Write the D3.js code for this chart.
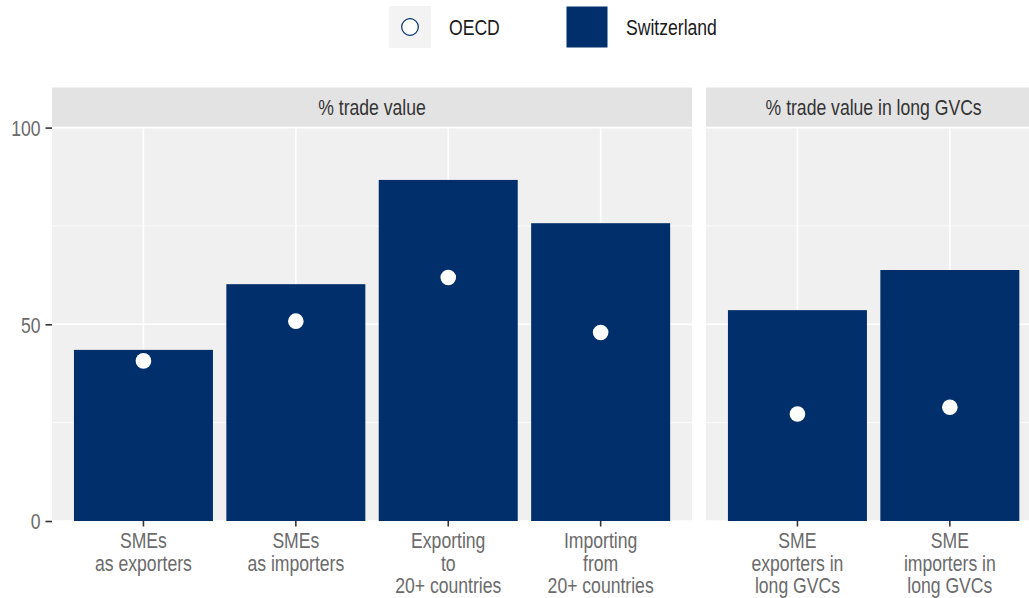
<!DOCTYPE html>
<html>
<head>
<meta charset="utf-8">
<script src="https://cdn.jsdelivr.net/npm/d3@7"></script>
<style>
  html, body { margin: 0; padding: 0; background: #ffffff; overflow: hidden; }
  svg { display: block; }
  text { font-family: "Liberation Sans", Arial, sans-serif; }
</style>
</head>
<body>
<svg id="chart" width="1029" height="598"></svg>
<script>
// ---- data ----
const panelTitles = ["% trade value", "% trade value in long GVCs"];
const categoriesLeft = ["SMEs\nas exporters", "SMEs\nas importers", "Exporting\nto\n20+ countries", "Importing\nfrom\n20+ countries"];
const categoriesRight = ["SME\nexporters in\nlong GVCs", "SME\nimporters in\nlong GVCs"];
const switzerlandLeft = [43.5, 60.2, 86.7, 75.7];
const switzerlandRight = [53.6, 63.8];
const oecdLeft = [40.7, 50.8, 61.9, 47.9];
const oecdRight = [27.2, 28.9];
const yTicks = [0, 50, 100];
const seriesNames = ["OECD", "Switzerland"];

const barColor = "#002f6c";
const svg = d3.select("#chart");
const narrow = 0.8; // emulate a narrow sans face by horizontal compression
const fs = 22;

// layout
const panelTop = 127.6, panelBottom = 521;
const unit = 152.4;
const leftX0 = 52;
const rightX0 = 706;
const y = d3.scaleLinear().domain([0, 100]).range([panelBottom, panelTop]);

const panels = [
  { title: panelTitles[0], cats: categoriesLeft, bars: switzerlandLeft, pts: oecdLeft, x0: leftX0 },
  { title: panelTitles[1], cats: categoriesRight, bars: switzerlandRight, pts: oecdRight, x0: rightX0 }
];

panels.forEach(p => {
  const width = (p.cats.length + 0.2) * unit;
  const x = d3.scaleBand().domain(p.cats).range([p.x0, p.x0 + width])
    .paddingOuter(0.1).paddingInner(0);
  const cx = c => x(c) + x.bandwidth() / 2;

  const g = svg.append("g");
  g.append("rect").attr("x", p.x0).attr("y", panelTop).attr("width", width).attr("height", panelBottom - panelTop)
    .attr("fill", "#f0f0f0");
  g.append("rect").attr("x", p.x0).attr("y", 87.5).attr("width", width).attr("height", panelTop - 87.5)
    .attr("fill", "#e3e3e3");
  g.append("text").attr("x", p.x0 + width / 2).attr("y", 115.5)
    .attr("text-anchor", "middle").attr("font-size", fs).attr("fill", "#333333").text(p.title);

  [25, 75].forEach(v => {
    g.append("line").attr("x1", p.x0).attr("x2", p.x0 + width).attr("y1", y(v)).attr("y2", y(v))
      .attr("stroke", "#ffffff").attr("stroke-width", 0.8);
  });
  yTicks.forEach(v => {
    g.append("line").attr("x1", p.x0).attr("x2", p.x0 + width).attr("y1", y(v)).attr("y2", y(v))
      .attr("stroke", "#ffffff").attr("stroke-width", 1.6);
  });
  p.cats.forEach(c => {
    g.append("line").attr("x1", cx(c)).attr("x2", cx(c)).attr("y1", panelTop).attr("y2", panelBottom)
      .attr("stroke", "#ffffff").attr("stroke-width", 1.6);
  });

  const bw = 139;
  g.selectAll("rect.bar").data(p.cats).enter().append("rect").attr("class", "bar")
    .attr("x", c => cx(c) - bw / 2).attr("width", bw)
    .attr("y", (c, i) => y(p.bars[i])).attr("height", (c, i) => y(0) - y(p.bars[i]))
    .attr("fill", barColor);

  g.selectAll("circle.pt").data(p.cats).enter().append("circle").attr("class", "pt")
    .attr("cx", c => cx(c)).attr("cy", (c, i) => y(p.pts[i])).attr("r", 7.8)
    .attr("fill", "#ffffff");

  p.cats.forEach(c => {
    g.append("line").attr("x1", cx(c)).attr("x2", cx(c)).attr("y1", panelBottom).attr("y2", panelBottom + 5.5)
      .attr("stroke", "#333333").attr("stroke-width", 1.6);
    const lines = c.split("\n");
    const t = g.append("text").attr("x", cx(c)).attr("text-anchor", "middle").attr("font-size", fs).attr("fill", "#6b6b6b");
    lines.forEach((l, i) => {
      t.append("tspan").attr("x", cx(c)).attr("y", 548.5 + i * 22.5).text(l);
    });
  });
});

const yAxis = d3.axisLeft(y).tickValues(yTicks).tickSize(6.5).tickPadding(5);
const ya = svg.append("g").attr("transform", `translate(${leftX0},0)`).call(yAxis);
ya.select(".domain").remove();
ya.selectAll(".tick line").attr("stroke", "#333333").attr("stroke-width", 1.6);
ya.selectAll(".tick text").attr("font-size", fs).attr("fill", "#6b6b6b")
  .attr("font-family", null).attr("dy", "0.36em");

const lg = svg.append("g");
lg.append("rect").attr("x", 389).attr("y", 6).attr("width", 42).attr("height", 42).attr("fill", "#f3f3f3");
lg.append("circle").attr("cx", 410).attr("cy", 27).attr("r", 8.3)
  .attr("fill", "#ffffff").attr("stroke", barColor).attr("stroke-width", 1.2);
lg.append("text").attr("x", 449).attr("y", 35).attr("font-size", fs).attr("fill", "#1a1a1a").text(seriesNames[0]);
lg.append("rect").attr("x", 566.5).attr("y", 6.5).attr("width", 41).attr("height", 41).attr("fill", barColor);
lg.append("text").attr("x", 626).attr("y", 35).attr("font-size", fs).attr("fill", "#1a1a1a").text(seriesNames[1]);

// horizontal compression around each text's anchor x
svg.selectAll("text").each(function () {
  const ax = +(this.getAttribute("x") || 0);
  const prev = this.getAttribute("transform") || "";
  this.setAttribute("transform", `${prev} translate(${ax},0) scale(${narrow},1) translate(${-ax},0)`.trim());
});
</script>
</body>
</html>
